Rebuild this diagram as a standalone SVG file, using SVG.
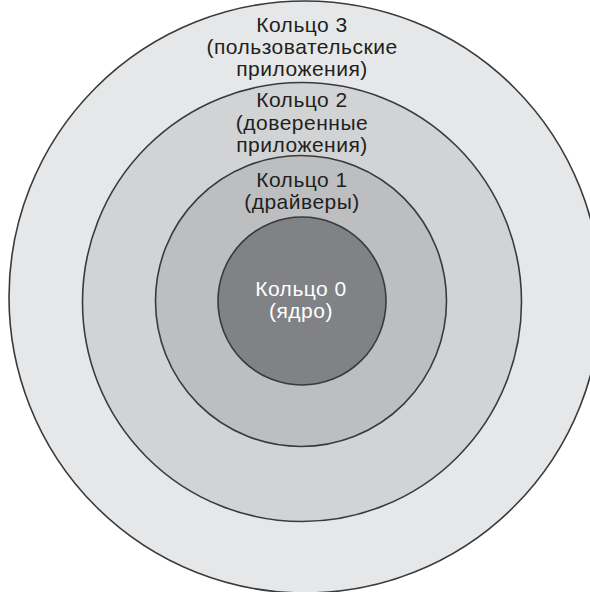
<svg xmlns="http://www.w3.org/2000/svg" width="590" height="592" viewBox="0 0 590 592">
  <style>
    .ring { stroke: #3a3a3a; stroke-width: 1.6; }
    .lbl { font-family: "Liberation Sans", Arial, sans-serif; font-size: 21px; letter-spacing: 0.5px; text-anchor: middle; fill: #231f20; }
    .lbl.inv { fill: #ffffff; }
  </style>
  <rect width="590" height="592" fill="#ffffff"/>
  <g id="ring3">
    <circle class="ring" cx="305" cy="297" r="296" fill="#e6e7e8"/>
    <text class="lbl" x="302" y="32">Кольцо 3</text>
    <text class="lbl" x="302" y="54">(пользовательские</text>
    <text class="lbl" x="302" y="76">приложения)</text>
  </g>
  <g id="ring2">
    <circle class="ring" cx="302" cy="302" r="219.5" fill="#d1d3d4"/>
    <text class="lbl" x="302" y="107">Кольцо 2</text>
    <text class="lbl" x="302" y="130">(доверенные</text>
    <text class="lbl" x="302" y="152">приложения)</text>
  </g>
  <g id="ring1">
    <circle class="ring" cx="301" cy="301" r="145.5" fill="#bcbec0"/>
    <text class="lbl" x="302" y="187">Кольцо 1</text>
    <text class="lbl" x="302" y="209">(драйверы)</text>
  </g>
  <g id="ring0">
    <circle class="ring" cx="302" cy="301" r="84" fill="#808285"/>
    <text class="lbl inv" x="301" y="296">Кольцо 0</text>
    <text class="lbl inv" x="301" y="318">(ядро)</text>
  </g>
</svg>
